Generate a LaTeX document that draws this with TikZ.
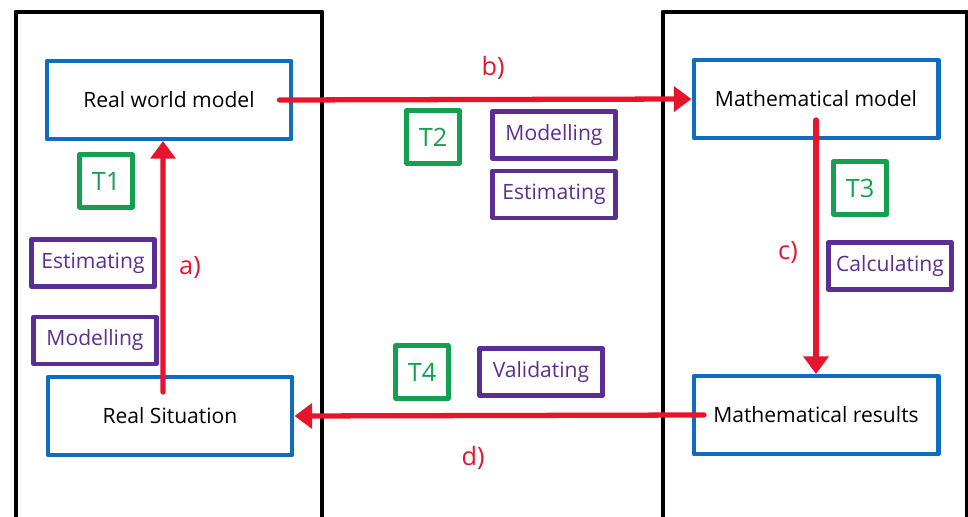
\documentclass[tikz,border=0pt]{standalone}
\usepackage{fontspec}
\setmainfont{Open Sans}
\usetikzlibrary{positioning,arrows.meta}

\definecolor{boxblue}{RGB}{16,108,190}
\definecolor{tgreen}{RGB}{20,160,80}
\definecolor{skillpurple}{RGB}{92,46,145}
\definecolor{arrowred}{RGB}{230,20,45}

\begin{document}
\begin{tikzpicture}[x=0.02cm,y=-0.02cm,line join=round,line cap=round,
		stagebox/.style={draw=boxblue,line width=2.3pt,minimum width=4.9cm,minimum height=1.56cm,font=\large},
		tbox/.style={draw=tgreen,line width=2.3pt,minimum width=1.06cm,minimum height=1.06cm,text=tgreen,font=\Large},
		skillbox/.style={draw=skillpurple,line width=2.5pt,minimum width=2.46cm,minimum height=0.94cm,text=skillpurple,font=\large},
		redarrow/.style={draw=arrowred,line width=3pt,-{Triangle[length=10pt,width=14pt]}},
		steplabel/.style={text=arrowred,font=\Large}]
		\useasboundingbox (0,0) rectangle (968,517);

		% frames
		\draw[line width=2.8pt] (16,517) -- (16,12) -- (322,12) -- (322,517);
		\draw[line width=2.8pt] (663,517) -- (663,12) -- (967,12) -- (967,517);

		\node[stagebox]									(rwm)	at (169,100)	{Real world model};
		\node[stagebox]									(rs)	at (170,416)	{Real Situation};
		\node[stagebox]									(mm)	at (816,99)		{Mathematical model};
		\node[stagebox]									(mr)	at (816,415)	{Mathematical results};

		\node[tbox]										(t1)	at (106,181)	{T1};
		\node[tbox]										(t2)	at (433,137)	{T2};
		\node[tbox]										(t3)	at (860,188)	{T3};
		\node[tbox]										(t4)	at (422,372)	{T4};

		\node[skillbox]									(est1)	at (93,263)		{Estimating};
		\node[skillbox,node distance=0.52cm,below=of est1,xshift=0.04cm]	(mod1)	{Modelling};
		\node[skillbox]									(mod2)	at (554,135)	{Modelling};
		\node[skillbox,node distance=0.16cm,below=of mod2]	(est2)	{Estimating};
		\node[skillbox]									(calc)	at (890,266)	{Calculating};
		\node[skillbox]									(val)	at (541,372)	{Validating};

		\draw[redarrow] ([xshift=-0.14cm,yshift=0.48cm]rs.center) -- ([xshift=-0.12cm]rwm.south);
		\draw[redarrow] ([xshift=-0.28cm]rwm.east) -- (mm.west);
		\draw[redarrow] ([yshift=-0.42cm]mm.center) -- (mr.north);
		\draw[redarrow] ([xshift=0.25cm]mr.west) -- (rs.east);

		\node[steplabel]	(la)	at (190,267)	{a)};
		\node[steplabel]	(lb)	at (493,68)		{b)};
		\node[steplabel]	(lc)	at (788,252)	{c)};
		\node[steplabel]	(ld)	at (473,458)	{d)};
	\end{tikzpicture}
\end{document}
